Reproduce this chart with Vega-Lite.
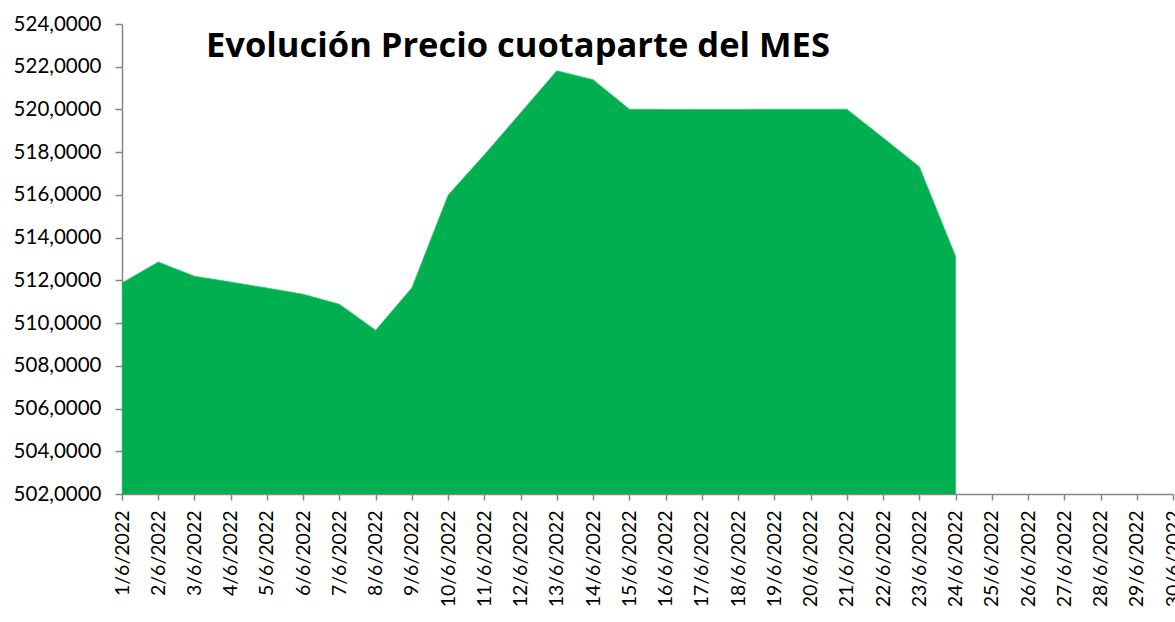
{
  "$schema": "https://vega.github.io/schema/vega-lite/v6.json",
  "autosize": "none",
  "padding": {"left": 122, "top": 24, "right": 2, "bottom": 128},
  "width": 1051,
  "height": 470,
  "background": "white",
  "title": {
    "text": "Evolución Precio cuotaparte del MES",
    "anchor": "start",
    "frame": "group",
    "dx": 84,
    "offset": -50,
    "font": "Open Sans",
    "fontSize": 34.5,
    "fontWeight": "bold",
    "color": "#000000"
  },
  "data": {
    "values": [
      {"fecha": "1/6/2022", "precio": 511.88},
      {"fecha": "2/6/2022", "precio": 512.86},
      {"fecha": "3/6/2022", "precio": 512.19},
      {"fecha": "4/6/2022", "precio": 511.92},
      {"fecha": "5/6/2022", "precio": 511.64},
      {"fecha": "6/6/2022", "precio": 511.35},
      {"fecha": "7/6/2022", "precio": 510.88},
      {"fecha": "8/6/2022", "precio": 509.66},
      {"fecha": "9/6/2022", "precio": 511.66},
      {"fecha": "10/6/2022", "precio": 515.99},
      {"fecha": "11/6/2022", "precio": 517.88},
      {"fecha": "12/6/2022", "precio": 519.84},
      {"fecha": "13/6/2022", "precio": 521.81},
      {"fecha": "14/6/2022", "precio": 521.39},
      {"fecha": "15/6/2022", "precio": 520.01},
      {"fecha": "16/6/2022", "precio": 520.0},
      {"fecha": "17/6/2022", "precio": 520.0},
      {"fecha": "18/6/2022", "precio": 520.0},
      {"fecha": "19/6/2022", "precio": 520.01},
      {"fecha": "20/6/2022", "precio": 520.01},
      {"fecha": "21/6/2022", "precio": 520.01},
      {"fecha": "22/6/2022", "precio": 518.67},
      {"fecha": "23/6/2022", "precio": 517.32},
      {"fecha": "24/6/2022", "precio": 513.13},
      {"fecha": "25/6/2022", "precio": null},
      {"fecha": "26/6/2022", "precio": null},
      {"fecha": "27/6/2022", "precio": null},
      {"fecha": "28/6/2022", "precio": null},
      {"fecha": "29/6/2022", "precio": null},
      {"fecha": "30/6/2022", "precio": null}
    ]
  },
  "mark": {"type": "area", "color": "#00B050", "opacity": 1, "stroke": "#2CC46E", "strokeWidth": 0.8, "clip": true},
  "encoding": {
    "x": {
      "field": "fecha",
      "type": "ordinal",
      "sort": null,
      "scale": {
        "type": "point",
        "padding": 0,
        "domain": ["1/6/2022","2/6/2022","3/6/2022","4/6/2022","5/6/2022","6/6/2022","7/6/2022","8/6/2022","9/6/2022","10/6/2022","11/6/2022","12/6/2022","13/6/2022","14/6/2022","15/6/2022","16/6/2022","17/6/2022","18/6/2022","19/6/2022","20/6/2022","21/6/2022","22/6/2022","23/6/2022","24/6/2022","25/6/2022","26/6/2022","27/6/2022","28/6/2022","29/6/2022","30/6/2022"]
      },
      "axis": {
        "title": null,
        "labelAngle": -90,
        "labelAlign": "right",
        "labelBaseline": "middle",
        "labelPadding": 10,
        "labelFont": "Lato",
        "labelFontSize": 19.5,
        "labelColor": "#000000",
        "labelOverlap": false,
        "labelBound": false,
        "domainColor": "#868686",
        "domainWidth": 1.5,
        "tickColor": "#868686",
        "tickWidth": 1.5,
        "tickSize": 6,
        "grid": false
      }
    },
    "y": {
      "field": "precio",
      "type": "quantitative",
      "scale": {"domain": [502, 524], "zero": false, "nice": false},
      "axis": {
        "title": null,
        "values": [502, 504, 506, 508, 510, 512, 514, 516, 518, 520, 522, 524],
        "labelExpr": "replace(format(datum.value, '.4f'), '.', ',')",
        "labelFont": "Lato",
        "labelFontSize": 20.5,
        "labelColor": "#000000",
        "labelPadding": 14,
        "domainColor": "#868686",
        "domainWidth": 1.5,
        "tickColor": "#868686",
        "tickWidth": 1.5,
        "tickSize": 7,
        "grid": false
      }
    }
  },
  "config": {"view": {"stroke": null}}
}
